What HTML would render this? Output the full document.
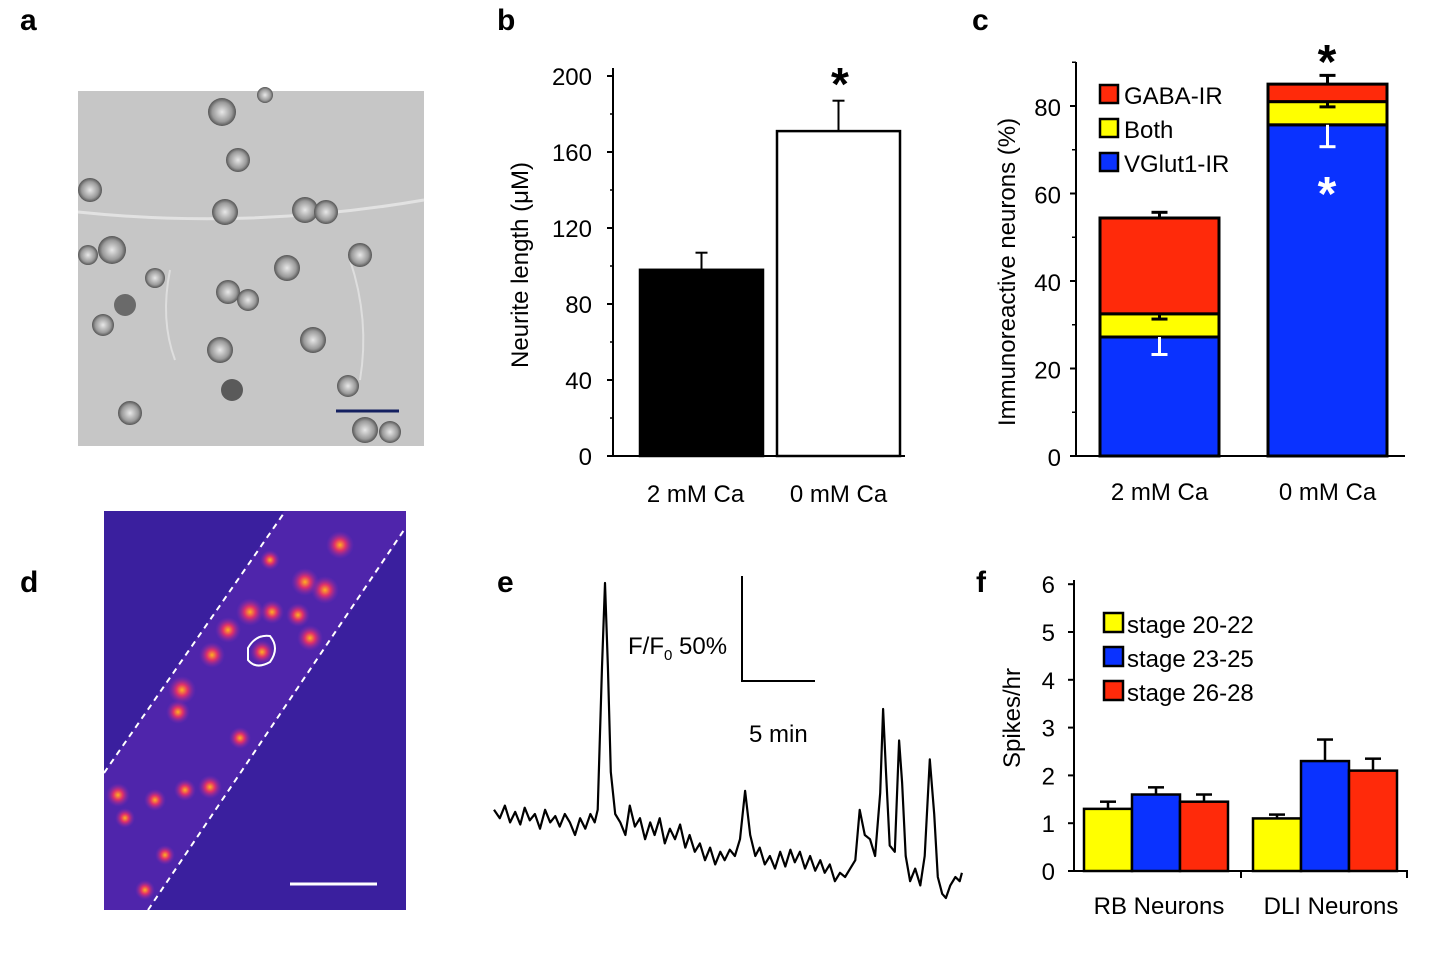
<!DOCTYPE html>
<html><head><meta charset="utf-8">
<style>
html,body{margin:0;padding:0;background:#fff;}
svg{display:block;font-family:"Liberation Sans",Arial,sans-serif;}
</style></head>
<body>
<svg width="1445" height="970" viewBox="0 0 1445 970" xmlns="http://www.w3.org/2000/svg">
<defs>
<radialGradient id="blob" cx="50%" cy="50%" r="50%">
<stop offset="0%" stop-color="#ffb020"/><stop offset="40%" stop-color="#e0306a"/><stop offset="100%" stop-color="#7a28b8" stop-opacity="0"/>
</radialGradient>
<radialGradient id="cell" cx="50%" cy="50%" r="50%">
<stop offset="0%" stop-color="#e8e8e8"/><stop offset="70%" stop-color="#9a9a9a"/><stop offset="100%" stop-color="#555"/>
</radialGradient>
</defs>

<g font-weight="bold" font-size="30" fill="#000">
<text x="20" y="30">a</text>
<text x="497" y="30">b</text>
<text x="972" y="30">c</text>
<text x="20" y="592">d</text>
<text x="497" y="592">e</text>
<text x="976" y="592">f</text>
</g>

<g>
<rect x="78" y="91" width="346" height="355" fill="#c6c6c6"/>
<path d="M78 212 Q250 230 424 200" stroke="#e2e2e2" stroke-width="3" fill="none"/>
<path d="M170 270 Q160 320 175 360" stroke="#dedede" stroke-width="2" fill="none"/>
<path d="M350 260 Q370 320 360 380" stroke="#dedede" stroke-width="2" fill="none"/>
<g>
<circle cx="222" cy="112" r="14" fill="url(#cell)"/><circle cx="238" cy="160" r="12" fill="url(#cell)"/>
<circle cx="90" cy="190" r="12" fill="url(#cell)"/><circle cx="225" cy="212" r="13" fill="url(#cell)"/>
<circle cx="305" cy="210" r="13" fill="url(#cell)"/><circle cx="326" cy="212" r="12" fill="url(#cell)"/>
<circle cx="112" cy="250" r="14" fill="url(#cell)"/><circle cx="88" cy="255" r="10" fill="url(#cell)"/>
<circle cx="287" cy="268" r="13" fill="url(#cell)"/><circle cx="360" cy="255" r="12" fill="url(#cell)"/>
<circle cx="155" cy="278" r="10" fill="url(#cell)"/><circle cx="228" cy="292" r="12" fill="url(#cell)"/>
<circle cx="248" cy="300" r="11" fill="url(#cell)"/><circle cx="125" cy="305" r="11" fill="#6a6a6a"/>
<circle cx="103" cy="325" r="11" fill="url(#cell)"/><circle cx="313" cy="340" r="13" fill="url(#cell)"/>
<circle cx="220" cy="350" r="13" fill="url(#cell)"/><circle cx="348" cy="386" r="11" fill="url(#cell)"/>
<circle cx="232" cy="390" r="11" fill="#5a5a5a"/><circle cx="130" cy="413" r="12" fill="url(#cell)"/>
<circle cx="365" cy="430" r="13" fill="url(#cell)"/><circle cx="390" cy="432" r="11" fill="url(#cell)"/>
<circle cx="265" cy="95" r="8" fill="url(#cell)"/>
</g>
<line x1="336" y1="411" x2="399" y2="411" stroke="#142060" stroke-width="3"/>
</g>

<g>
<rect x="104" y="511" width="302" height="399" fill="#3a1f9e"/>
<polygon points="104,773 284,511 406,511 406,530 148,910 104,910" fill="#5828b0" opacity="0.7"/>
<g fill="url(#blob)">
<circle cx="340" cy="545" r="14"/><circle cx="305" cy="582" r="14"/><circle cx="325" cy="590" r="14"/>
<circle cx="250" cy="612" r="14"/><circle cx="272" cy="612" r="12"/><circle cx="228" cy="630" r="13"/>
<circle cx="298" cy="615" r="12"/><circle cx="310" cy="638" r="13"/><circle cx="212" cy="655" r="13"/>
<circle cx="262" cy="652" r="12"/><circle cx="182" cy="690" r="14"/><circle cx="178" cy="712" r="12"/>
<circle cx="240" cy="738" r="11"/><circle cx="118" cy="795" r="12"/><circle cx="155" cy="800" r="11"/>
<circle cx="185" cy="790" r="11"/><circle cx="210" cy="787" r="12"/><circle cx="125" cy="818" r="10"/>
<circle cx="165" cy="855" r="10"/><circle cx="145" cy="890" r="10"/><circle cx="270" cy="560" r="10"/>
</g>
<path d="M104 773 L284 513" stroke="#fff" stroke-width="2" stroke-dasharray="6,5"/>
<path d="M148 910 L404 530" stroke="#fff" stroke-width="2" stroke-dasharray="6,5"/>
<path d="M248 648 Q256 634 270 636 Q280 648 270 662 Q256 670 248 660 Z" fill="none" stroke="#fff" stroke-width="2"/>
<line x1="290" y1="884" x2="377" y2="884" stroke="#fff" stroke-width="3"/>
</g>

<g id="b"></g>
<g id="c"></g>
<g id="e">
<text x="628" y="654" font-size="24">F/F<tspan dy="6" font-size="15">0</tspan><tspan dy="-6" font-size="24"> 50%</tspan></text>
<text x="749" y="742" font-size="24">5 min</text>
<path d="M742 576 L742 681 L815 681" fill="none" stroke="#000" stroke-width="2"/>
</g>
<g id="f"></g>
</svg>
<script>
const bCats = ["2 mM Ca", "0 mM Ca"];
const bVals = [98, 171];
const bErr = [9, 16];
const bTicks = [0, 40, 80, 120, 160, 200];
const cCats = ["2 mM Ca", "0 mM Ca"];
const cVGlut = [27.2, 75.7];
const cBoth = [5.3, 5.3];
const cGaba = [21.9, 4.0];
const cTotalErr = [1.3, 2.0];
const cVGlutErr = [4.0, 5.0];
const cTicks = [0, 20, 40, 60, 80];
const eTimes = [0,0.4,0.75,1.1,1.45,1.8,2.1,2.45,2.8,3.15,3.5,3.85,4.2,4.5,4.85,5.2,5.55,5.9,6.25,6.6,6.9,7.1,7.4,7.6,7.8,8.0,8.3,8.65,9.0,9.3,9.65,10.0,10.35,10.7,11.0,11.35,11.7,12.05,12.4,12.75,13.1,13.4,13.75,14.1,14.45,14.8,15.15,15.5,15.8,16.15,16.5,16.85,17.2,17.55,17.9,18.2,18.55,18.9,19.25,19.6,19.95,20.3,20.6,20.95,21.3,21.65,22.0,22.35,22.65,23.0,23.35,23.7,24.05,24.4,24.75,25.05,25.4,25.75,26.1,26.45,26.65,26.85,27.1,27.45,27.75,27.95,28.2,28.5,28.85,29.2,29.5,29.85,30.15,30.4,30.7,30.95,31.25,31.6,31.9,32.05];
const eVals = [42,38,44,36,41,35,43,37,40,33,42,36,39,34,40,36,30,38,33,40,36,42,110,150,110,60,40,36,30,44,34,38,28,36,30,38,26,33,28,35,24,30,22,26,18,24,16,22,18,23,20,28,51,30,20,24,16,20,14,22,15,23,17,22,14,20,13,18,12,16,8,12,10,14,18,42,30,28,20,50,90,60,25,22,75,55,20,8,14,6,20,66,40,10,2,0,6,10,8,12];
const fCats = ["RB Neurons", "DLI Neurons"];
const fSeries = ["stage 20-22", "stage 23-25", "stage 26-28"];
const fS1 = [1.3, 1.1];
const fS2 = [1.6, 2.3];
const fS3 = [1.45, 2.1];
const fE1 = [0.15, 0.08];
const fE2 = [0.15, 0.45];
const fE3 = [0.15, 0.25];
const fTicks = [0, 1, 2, 3, 4, 5, 6];

const NS = "http://www.w3.org/2000/svg";
function mk(parent, tag, attrs, txt) {
  const el = document.createElementNS(NS, tag);
  for (const k in attrs) el.setAttribute(k, attrs[k]);
  if (txt !== undefined) el.textContent = txt;
  parent.appendChild(el);
  return el;
}

(function(){
  const g = document.getElementById('b');
  const y = v => 456 - v * (380 / 200);
  const bx = i => 640 + i * 137, bw = 123;
  let ax = mk(g, 'line', {x1:613,y1:68,x2:613,y2:457,stroke:'#000','stroke-width':2});
  
  
  let xa = mk(g, 'line', {x1:612,y1:456,x2:905,y2:456,stroke:'#000','stroke-width':2});
  
  
  bTicks.forEach((t, i) => {
    mk(g, 'line', {x1:607,y1:y(t),x2:613,y2:y(t),stroke:'#000','stroke-width':2});
    if (i < bTicks.length - 1) mk(g, 'line', {x1:610,y1:y(t + 20),x2:613,y2:y(t + 20),stroke:'#000','stroke-width':1.5});
    const tl = mk(g, 'text', {x:592,y:y(t) + 9,'text-anchor':'end','font-size':24}, t);
    
    
  });
  bVals.forEach((v, i) => {
    const x = bx(i);
    mk(g, 'line', {x1:x + bw / 2,y1:y(v),x2:x + bw / 2,y2:y(v + bErr[i]),stroke:'#000','stroke-width':2});
    mk(g, 'line', {x1:x + bw / 2 - 6,y1:y(v + bErr[i]),x2:x + bw / 2 + 6,y2:y(v + bErr[i]),stroke:'#000','stroke-width':2});
    const r = mk(g, 'rect', {x:x,y:y(v),width:bw,height:456 - y(v),fill:i === 0 ? '#000' : '#fff',stroke:'#000','stroke-width':2.5});
    
    
    const l = mk(g, 'text', {x:x + bw / 2 - 6 + i * 6,y:502,'text-anchor':'middle','font-size':24}, bCats[i]);
    
    
  });
  const s = mk(g, 'text', {x:840,y:100,'text-anchor':'middle','font-size':46,'font-weight':'bold'}, '*');
  
  
  const t = mk(g, 'text', {x:0,y:0,transform:'translate(528,265) rotate(-90)','text-anchor':'middle','font-size':24}, 'Neurite length (μM)');
  
  
})();

(function(){
  const g = document.getElementById('c');
  const y = v => 456 - v * (350 / 80);
  const bx = i => 1100 + i * 168, bw = 119;
  let ax = mk(g, 'line', {x1:1076,y1:62,x2:1076,y2:457,stroke:'#000','stroke-width':2});
  
  
  let xa = mk(g, 'line', {x1:1075,y1:456,x2:1405,y2:456,stroke:'#000','stroke-width':2});
  
  
  cTicks.forEach(t => {
    mk(g, 'line', {x1:1070,y1:y(t),x2:1076,y2:y(t),stroke:'#000','stroke-width':2});
    mk(g, 'line', {x1:1072,y1:y(t + 10),x2:1076,y2:y(t + 10),stroke:'#000','stroke-width':1.5});
    const tl = mk(g, 'text', {x:1061,y:y(t) + 10,'text-anchor':'end','font-size':24}, t);
    
    
  });
  cCats.forEach((c, i) => {
    const x = bx(i);
    const b1 = cVGlut[i], b2 = b1 + cBoth[i], b3 = b2 + cGaba[i];
    mk(g, 'line', {x1:x + bw / 2,y1:y(b3),x2:x + bw / 2,y2:y(b3 + cTotalErr[i]),stroke:'#000','stroke-width':3});
    mk(g, 'line', {x1:x + bw / 2 - 8,y1:y(b3 + cTotalErr[i]),x2:x + bw / 2 + 8,y2:y(b3 + cTotalErr[i]),stroke:'#000','stroke-width':3});
    const rb = mk(g, 'rect', {x:x,y:y(b1),width:bw,height:y(0) - y(b1),fill:'#0a32ff',stroke:'#000','stroke-width':3});
    
    
    const ry = mk(g, 'rect', {x:x,y:y(b2),width:bw,height:y(b1) - y(b2),fill:'#ffff00',stroke:'#000','stroke-width':3});
    
    
    const rr = mk(g, 'rect', {x:x,y:y(b3),width:bw,height:y(b2) - y(b3),fill:'#ff2a0a',stroke:'#000','stroke-width':3});
    
    
    mk(g, 'line', {x1:x + bw / 2,y1:y(b2),x2:x + bw / 2,y2:y(b2 - 1.2),stroke:'#000','stroke-width':3});
    mk(g, 'line', {x1:x + bw / 2 - 8,y1:y(b2 - 1.2),x2:x + bw / 2 + 8,y2:y(b2 - 1.2),stroke:'#000','stroke-width':3});
    mk(g, 'line', {x1:x + bw / 2,y1:y(b1),x2:x + bw / 2,y2:y(b1 - cVGlutErr[i]),stroke:'#fff','stroke-width':3});
    mk(g, 'line', {x1:x + bw / 2 - 8,y1:y(b1 - cVGlutErr[i]),x2:x + bw / 2 + 8,y2:y(b1 - cVGlutErr[i]),stroke:'#fff','stroke-width':3});
    const l = mk(g, 'text', {x:x + bw / 2,y:500,'text-anchor':'middle','font-size':24}, c);
    
    
  });
  const s1 = mk(g, 'text', {x:1327,y:78,'text-anchor':'middle','font-size':48,'font-weight':'bold'}, '*');
  
  
  const s2 = mk(g, 'text', {x:1327,y:210,'text-anchor':'middle','font-size':48,'font-weight':'bold',fill:'#fff'}, '*');
  
  
  const leg = [['GABA-IR', '#ff2a0a'], ['Both', '#ffff00'], ['VGlut1-IR', '#0a32ff']];
  leg.forEach((L, i) => {
    const ly = 85 + i * 34;
    const r = mk(g, 'rect', {x:1100,y:ly,width:18,height:18,fill:L[1],stroke:'#000','stroke-width':2.5});
    
    
    const t = mk(g, 'text', {x:1124,y:ly + 19,'font-size':24}, L[0]);
    
    
  });
  const t = mk(g, 'text', {x:0,y:0,transform:'translate(1015,272) rotate(-90)','text-anchor':'middle','font-size':24}, 'Immunoreactive neurons (%)');
  
  
})();

(function(){
  const g = document.getElementById('e');
  const x = t => 494 + t * 14.6;
  const y = v => 898 - v * 2.1;
  const d = eTimes.map((t, i) => (i ? 'L' : 'M') + x(t).toFixed(1) + ' ' + y(eVals[i]).toFixed(1)).join(' ');
  const p = mk(g, 'path', {d:d,fill:'none',stroke:'#000','stroke-width':2.2,'stroke-linejoin':'round'});
  
  
})();

(function(){
  const g = document.getElementById('f');
  const y = v => 871 - v * 47.8;
  const groupX = i => 1084 + i * 169, bw = 48;
  const cols = ['#ffff00', '#0a32ff', '#ff2a0a'];
  const series = [fS1, fS2, fS3], errs = [fE1, fE2, fE3];
  let ax = mk(g, 'line', {x1:1074,y1:580,x2:1074,y2:872,stroke:'#000','stroke-width':2});
  
  
  let xa = mk(g, 'line', {x1:1073,y1:871,x2:1408,y2:871,stroke:'#000','stroke-width':2});
  
  
  mk(g, 'line', {x1:1407,y1:871,x2:1407,y2:878,stroke:'#000','stroke-width':2});
  mk(g, 'line', {x1:1241,y1:871,x2:1241,y2:878,stroke:'#000','stroke-width':2});
  fTicks.forEach(t => {
    mk(g, 'line', {x1:1068,y1:y(t),x2:1074,y2:y(t),stroke:'#000','stroke-width':2});
    const tl = mk(g, 'text', {x:1055,y:y(t) + 9,'text-anchor':'end','font-size':24}, t);
    
    
  });
  fCats.forEach((c, i) => {
    series.forEach((s, j) => {
      const bx = groupX(i) + j * bw;
      const v = s[i], e = errs[j][i];
      mk(g, 'line', {x1:bx + bw / 2,y1:y(v),x2:bx + bw / 2,y2:y(v + e),stroke:'#000','stroke-width':2.5});
      mk(g, 'line', {x1:bx + bw / 2 - 8,y1:y(v + e),x2:bx + bw / 2 + 8,y2:y(v + e),stroke:'#000','stroke-width':2.5});
      const r = mk(g, 'rect', {x:bx,y:y(v),width:bw,height:871 - y(v),fill:cols[j],stroke:'#000','stroke-width':2.5});
      
      
    });
    const l = mk(g, 'text', {x:groupX(i) + 75 + i * 3,y:914,'text-anchor':'middle','font-size':24}, c);
    
    
  });
  fSeries.forEach((s, j) => {
    const ly = 613 + j * 34;
    const r = mk(g, 'rect', {x:1104,y:ly,width:19,height:19,fill:cols[j],stroke:'#000','stroke-width':2.5});
    
    
    const t = mk(g, 'text', {x:1127,y:ly + 20,'font-size':24}, s);
    
    
  });
  const t = mk(g, 'text', {x:0,y:0,transform:'translate(1020,718) rotate(-90)','text-anchor':'middle','font-size':24}, 'Spikes/hr');
  
  
})();
</script>
</body></html>
